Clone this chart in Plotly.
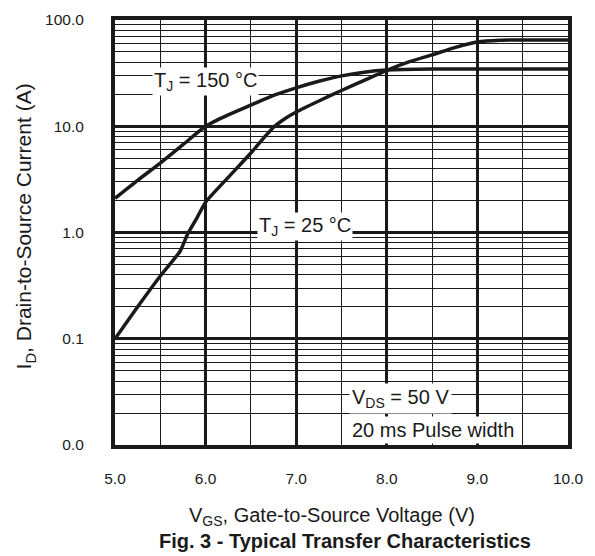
import plotly.graph_objects as go

# ---- data ----
vgs_150 = [5.0, 5.25, 5.5, 5.75, 6.0, 6.25, 6.5, 6.75, 7.0, 7.25, 7.5, 7.75, 8.0, 8.5, 9.0, 9.5, 10.0]
id_150 = [2.1, 3.1, 4.5, 6.7, 10.0, 12.8, 15.8, 19.5, 23.0, 26.5, 29.8, 32.3, 33.8, 34.5, 34.5, 34.5, 34.5]

vgs_25 = [5.0, 5.25, 5.5, 5.72, 5.8, 5.9, 6.0, 6.25, 6.5, 6.65, 6.75, 6.85, 7.0, 7.25, 7.5, 7.75,
          8.0, 8.25, 8.5, 8.75, 9.0, 9.25, 9.5, 10.0]
id_25 = [0.1, 0.2, 0.39, 0.67, 0.96, 1.35, 1.93, 3.3, 5.6, 7.9, 9.8, 11.4, 13.6, 17.3, 21.7, 27.0,
         33.5, 40.5, 47.0, 55.0, 62.0, 64.5, 65.0, 65.0]

x_ticks = [5, 6, 7, 8, 9, 10]
x_tick_text = ["5.0", "6.0", "7.0", "8.0", "9.0", "10.0"]
x_minor = [5.5, 6.5, 7.5, 8.5, 9.5]
y_ticks = [0.01, 0.1, 1, 10, 100]
y_tick_text = ["0.0", "0.1", "1.0", "10.0", "100.0"]
y_minor = [m * d for d in [0.01, 0.1, 1, 10] for m in range(2, 10)]

FONT = "Liberation Sans, Arial, sans-serif"
BLACK = "#1a1a1a"

fig = go.Figure()
fig.add_trace(go.Scatter(x=vgs_150, y=id_150, mode="lines",
                         line=dict(color=BLACK, width=3.5, shape="spline", smoothing=0.6),
                         showlegend=False, hoverinfo="skip"))
fig.add_trace(go.Scatter(x=vgs_25, y=id_25, mode="lines",
                         line=dict(color=BLACK, width=3.5, shape="spline", smoothing=0.6),
                         showlegend=False, hoverinfo="skip"))

fig.update_xaxes(
    range=[5, 10], tickvals=x_ticks, ticktext=x_tick_text,
    showgrid=True, gridcolor=BLACK, gridwidth=2.5,
    minor=dict(tickvals=x_minor, showgrid=True, gridcolor=BLACK, gridwidth=1.3, ticks=""),
    showline=True, linecolor=BLACK, linewidth=4, mirror=True,
    ticks="", ticklabelstandoff=16, zeroline=False,
    tickfont=dict(family=FONT, size=15.5, color=BLACK),
)
fig.update_yaxes(
    type="log", range=[-2, 2], tickvals=y_ticks, ticktext=y_tick_text,
    showgrid=True, gridcolor=BLACK, gridwidth=2.5,
    minor=dict(tickvals=y_minor, showgrid=True, gridcolor=BLACK, gridwidth=1.1, ticks=""),
    showline=True, linecolor=BLACK, linewidth=4, mirror=True,
    ticks="", ticklabelstandoff=24, zeroline=False,
    tickfont=dict(family=FONT, size=15.5, color=BLACK),
)

ann_font = dict(family=FONT, size=20, color=BLACK)
fig.add_annotation(x=6.0, y=1.42, text="T<sub>J</sub> = 150 °C",
                   showarrow=False, bgcolor="white", font=ann_font, borderpad=1)
fig.add_annotation(x=7.1, y=0.06, text="T<sub>J</sub> = 25 °C",
                   showarrow=False, bgcolor="white", font=ann_font, borderpad=1)
fig.add_annotation(x=7.58, y=-1.567, text="V<sub>DS</sub> = 50 V", xanchor="left",
                   showarrow=False, bgcolor="white", font=ann_font, borderpad=2)
fig.add_annotation(x=7.58, y=-1.862, text="20 ms Pulse width", xanchor="left",
                   showarrow=False, bgcolor="white", font=ann_font, borderpad=2)

# axis titles and caption
fig.add_annotation(xref="paper", yref="paper", x=-0.199, y=0.514, textangle=-90,
                   xanchor="center", yanchor="middle",
                   text="I<sub>D</sub>, Drain-to-Source Current (A)", showarrow=False,
                   font=dict(family=FONT, size=21, color=BLACK))
fig.add_annotation(xref="paper", yref="paper", x=0.479, y=-0.168,
                   xanchor="center", yanchor="middle",
                   text="V<sub>GS</sub>, Gate-to-Source Voltage (V)", showarrow=False,
                   font=dict(family=FONT, size=20, color=BLACK))
fig.add_annotation(xref="paper", yref="paper", x=0.508, y=-0.226,
                   xanchor="center", yanchor="middle",
                   text="<b>Fig. 3 - Typical Transfer Characteristics</b>", showarrow=False,
                   font=dict(family=FONT, size=20, color=BLACK))

fig.update_layout(
    width=595, height=556,
    margin=dict(l=115, r=27, t=11, b=111),
    paper_bgcolor="white", plot_bgcolor="white",
)
fig.write_html("out.html")
